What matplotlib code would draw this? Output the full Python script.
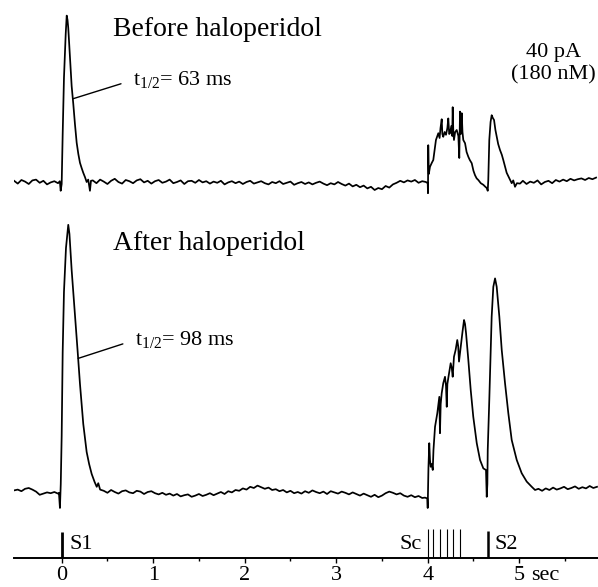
import numpy as np
import matplotlib.pyplot as plt

plt.rcParams['font.family'] = 'Liberation Serif'
plt.rcParams['mathtext.fontset'] = 'custom'
plt.rcParams['mathtext.rm'] = 'Liberation Serif'
plt.rcParams['mathtext.it'] = 'Liberation Serif:italic'

# ---- data (time in s, current in pA above baseline) ----
# quiet stretch before S1 (sampled every 40 ms)
t_pre = np.linspace(-0.52, -0.04, 13)
before_pre = [0.3, -0.4, 0.5, 0.1, -0.5, 0.4, 0.6, -0.2, 0.3, -0.6, -0.1, 0.2, -0.3]
after_pre = [0.4, 0.6, 0.2, 0.8, 1.0, 0.6, 0.1, -0.7, -0.4, -0.1, -0.3, 0.0, -0.4]

# response to S1
before_s1_t = [-0.02, -0.011, 0.0, 0.011, 0.025, 0.044, 0.055, 0.064, 0.072, 0.091,
               0.109, 0.127, 0.145, 0.164, 0.182, 0.2, 0.218, 0.236, 0.255, 0.273,
               0.29, 0.309, 0.32]
before_s1 = [0.2, -2.2, -0.5, 12.0, 26.0, 37.0, 41.6, 40.5, 38.5, 31.0,
             24.0, 19.5, 14.5, 9.8, 7.0, 4.8, 3.5, 2.3, 1.2, 0.0,
             0.6, -2.2, 0.3]
after_s1_t = [-0.03, -0.019, -0.01, 0.0, 0.011, 0.025, 0.047, 0.072, 0.085, 0.109,
              0.145, 0.175, 0.2, 0.236, 0.273, 0.3, 0.328, 0.36, 0.383, 0.4, 0.42]
after_s1 = [-0.2, -4.0, 2.0, 14.0, 35.0, 50.0, 61.0, 66.8, 64.5, 55.5,
            44.5, 35.0, 27.0, 17.0, 10.0, 7.0, 4.5, 2.5, 1.3, 2.2, 0.6]

# baseline between S1 and the conditioning train (sampled every 40 ms)
t_before_mid = np.linspace(0.34, 3.94, 91)
before_mid = [0.4, -0.3, 0.6, 0.1, -0.5, 0.3, 0.8, 0.0, -0.4, 0.5, 0.2, -0.3, 0.4, 0.7, -0.1, 0.3,
              -0.4, 0.2, 0.5, -0.2, 0.1, 0.6, -0.3, 0.0, 0.4, -0.5, 0.2, 0.3, -0.2, 0.5, -0.1, 0.2,
              -0.4, 0.1, -0.2, 0.3, -0.6, -0.1, 0.2, -0.3, 0.1, -0.5, 0.0, 0.3, -0.4, -0.1, 0.2, -0.3,
              -0.6, 0.0, -0.3, 0.2, -0.5, -0.2, 0.1, -0.7, -0.3, 0.0, -0.5, -0.1, -0.6, -0.2, 0.1, -0.4,
              -0.8, -0.3, -0.6, 0.0, -0.5, -0.9, -0.4, -1.1, -0.7, -1.3, -0.9, -1.6, -1.2, -2.0, -1.5, -1.8,
              -1.0, -1.4, -0.6, -0.2, 0.3, -0.1, 0.4, 0.1, 0.5, -0.2, 0.2]
t_after_mid = np.linspace(0.46, 3.94, 88)
after_mid = [0.3, -0.2, 0.5, 0.0, -0.4, 0.2, 0.4, -0.1, -0.3, 0.3, 0.1, -0.5, 0.0, 0.2, -0.3, -0.6,
             -0.2, -0.7, -0.4, -0.9, -0.5, -1.1, -0.8, -0.6, -1.2, -0.9, -0.5, -1.0, -0.7, -0.3, -0.8, -0.4,
             0.0, -0.5, 0.2, -0.1, 0.5, 0.3, 0.9, 0.6, 1.3, 1.0, 1.6, 1.2, 0.8, 1.1, 0.5, 0.7,
             0.2, 0.5, -0.1, 0.3, -0.3, 0.0, -0.4, 0.2, -0.2, 0.4, 0.0, -0.3, 0.1, -0.5, 0.2, -0.1,
             -0.4, 0.1, -0.2, -0.6, -0.1, -0.5, -0.9, -0.4, -0.8, -1.2, -0.7, -1.3, -0.9, -0.3, 0.1, -0.2,
             -0.6, -0.3, -0.9, -1.2, -0.8, -1.3, -1.0, -1.5]

# response to the conditioning train (Sc) and S2
before_sc_t = [3.98, 4.0, 4.003, 4.006, 4.012, 4.025, 4.045, 4.061, 4.075, 4.09,
               4.105, 4.116, 4.13, 4.14, 4.153, 4.16, 4.17, 4.185, 4.2, 4.215,
               4.225, 4.235, 4.244, 4.258, 4.268, 4.273, 4.28, 4.287, 4.3, 4.317,
               4.335, 4.345, 4.353, 4.362, 4.372, 4.38, 4.389, 4.408, 4.425, 4.444,
               4.46, 4.481, 4.5, 4.517, 4.535, 4.553, 4.58, 4.608, 4.63, 4.645,
               4.656, 4.662, 4.673, 4.687, 4.699, 4.712, 4.725, 4.74, 4.754, 4.77,
               4.79, 4.81, 4.826, 4.845, 4.863, 4.89, 4.918, 4.935, 4.954, 4.975, 5.009]
before_sc = [0.0, -0.3, -2.8, 9.2, 2.0, 3.8, 4.8, 5.5, 8.0, 10.5,
             11.5, 12.2, 11.0, 13.5, 15.7, 12.0, 11.3, 12.5, 11.8, 13.5,
             15.9, 12.0, 12.2, 14.0, 11.5, 18.7, 12.5, 10.5, 12.5, 13.0,
             11.5, 6.0, 17.6, 12.0, 17.2, 12.5, 10.5, 9.7, 7.5, 6.3,
             5.5, 4.7, 2.8, 1.7, 0.9, 0.5, -0.3, -0.7, -1.2, -1.5,
             -2.2, 0.5, 10.5, 15.0, 16.7, 16.0, 15.5, 13.0, 11.3, 9.5,
             8.0, 6.8, 5.5, 3.8, 2.3, 1.0, -0.3, 0.4, -1.2, -0.3, -0.4]
after_sc_t = [3.97, 3.995, 4.0, 4.008, 4.017, 4.025, 4.033, 4.045, 4.055, 4.063,
              4.08, 4.105, 4.127, 4.134, 4.142, 4.153, 4.17, 4.189, 4.2, 4.208,
              4.215, 4.225, 4.251, 4.263, 4.273, 4.287, 4.305, 4.323, 4.333, 4.342,
              4.361, 4.38, 4.397, 4.408, 4.419, 4.444, 4.47, 4.498, 4.536, 4.572,
              4.608, 4.637, 4.645, 4.652, 4.656, 4.673, 4.699, 4.717, 4.736, 4.754,
              4.783, 4.809, 4.845, 4.881, 4.918, 4.973, 5.027, 5.082, 5.137, 5.173]
after_sc = [-1.4, -1.6, -4.0, 6.0, 12.2, 8.0, 6.3, 7.0, 5.5, 10.5,
            16.3, 19.7, 23.8, 14.7, 22.0, 24.7, 27.2, 28.8, 26.5, 21.3,
            27.0, 28.5, 32.2, 31.0, 28.8, 33.8, 35.5, 38.0, 36.5, 32.6,
            36.3, 40.0, 43.0, 42.0, 39.7, 33.0, 25.5, 18.8, 12.2, 8.0,
            5.9, 5.5, -1.2, 2.0, 10.5, 23.0, 43.8, 51.3, 53.4, 51.3,
            43.8, 35.5, 27.2, 19.7, 13.0, 8.0, 4.7, 2.6, 1.3, 0.5]

# baseline after S2 (sampled every 40 ms)
t_before_end = np.linspace(5.04, 5.84, 21)
before_end = [0.3, -0.5, 0.1, -0.2, 0.4, -0.6, 0.0, 0.3, -0.3, 0.5, 0.1,
              0.6, 0.2, 0.8, 0.4, 0.7, 0.9, 0.5, 1.0, 0.7, 1.1]
t_after_end = np.linspace(5.21, 5.85, 17)
after_end = [0.8, 0.3, 0.9, 0.5, 1.1, 0.6, 0.9, 1.3, 0.7, 1.0, 1.4, 0.8, 1.2, 0.9, 1.5, 1.0, 1.3]

# stimulus times (s)
s1_time = 0.0
sc_times = [4.0, 4.06, 4.13, 4.21, 4.28, 4.35]
s2_time = 4.66

before_offset = 94.0
after_offset = 16.5


def build_trace(parts):
    t = np.concatenate([np.asarray(p[0], float) for p in parts])
    y = np.concatenate([np.asarray(p[1], float) for p in parts])
    return t, y


def half_decay_point(t, y):
    # time where the S1 response has fallen to half its peak
    t = np.asarray(t)
    y = np.asarray(y)
    i = int(np.argmax(y))
    j = i
    while y[j] > y[i] / 4:
        j += 1
    return np.interp(y[i] / 2, y[i:j + 1][::-1], t[i:j + 1][::-1]), y[i] / 2


tb, yb = build_trace([(t_pre, before_pre), (before_s1_t, before_s1), (t_before_mid, before_mid),
                      (before_sc_t, before_sc), (t_before_end, before_end)])
ta, ya = build_trace([(t_pre, after_pre), (after_s1_t, after_s1), (t_after_mid, after_mid),
                      (after_sc_t, after_sc), (t_after_end, after_end)])

fig = plt.figure(figsize=(5.98, 5.87), dpi=100)
ax = fig.add_axes([14 / 598, 29 / 587, 584 / 598, 558 / 587])

ax.plot(tb, yb + before_offset, color='black', lw=1.25)
ax.plot(ta, ya + after_offset, color='black', lw=1.25)

# stimulus markers on the time axis
ax.vlines(s1_time, 0, 6.5, color='black', lw=2.0)
ax.vlines(sc_times, 0, 7.25, color='black', lw=0.8)
ax.vlines(s2_time, 0, 6.75, color='black', lw=1.8)
ax.text(s1_time + 0.09, 3.4, 'S1', fontsize=16, va='center', ha='left')
ax.text(sc_times[0] - 0.06, 3.4, 'Sc', fontsize=16, va='center', ha='right')
ax.text(s2_time + 0.07, 3.4, 'S2', fontsize=16, va='center', ha='left')

# labels
ax.text(0.56, 132, 'Before haloperidol', fontsize=20, ha='left', va='center')
ax.text(0.56, 78.75, 'After haloperidol', fontsize=20, ha='left', va='center')
ax.text(5.37, 123.5, '40 pA\n(180 nM)', fontsize=16, ha='center', va='center',
        linespacing=1.25)

tx, hy = half_decay_point(before_s1_t, before_s1)
ax.annotate(r'$\mathregular{t_{1/2}}$= 63 ms', xy=(tx, hy + before_offset),
            xytext=(0.78, 119.5), fontsize=16, ha='left', va='center',
            arrowprops=dict(arrowstyle='-', lw=1.0, color='black',
                            shrinkA=7, shrinkB=0, relpos=(0, 0.5)))
tx, hy = half_decay_point(after_s1_t, after_s1)
ax.annotate(r'$\mathregular{t_{1/2}}$= 98 ms', xy=(tx, hy + after_offset),
            xytext=(0.8, 54.5), fontsize=16, ha='left', va='center',
            arrowprops=dict(arrowstyle='-', lw=1.0, color='black',
                            shrinkA=7, shrinkB=0, relpos=(0, 0.5)))

# time axis
ax.set_xlim(-0.521, 5.861)
ax.set_ylim(0, 139.5)
for side in ['top', 'left', 'right']:
    ax.spines[side].set_visible(False)
ax.spines['bottom'].set_linewidth(1.4)
ax.set_yticks([])
ax.set_xticks([0, 1, 2, 3, 4, 5])
ax.set_xticklabels(['0', '1', '2', '3', '4', '5'])
ax.set_xticks(np.arange(0.5, 6, 1.0), minor=True)
ax.tick_params(axis='x', which='major', direction='out', length=3.5, width=1.0,
               pad=2, labelsize=16)
ax.tick_params(axis='x', which='minor', direction='out', length=2.5, width=1.0)
ax.annotate('sec', xy=(5, 0), xytext=(8.5, -5.5), textcoords='offset points',
            fontsize=16, ha='left', va='top')

fig.savefig('out.png', dpi=100)
